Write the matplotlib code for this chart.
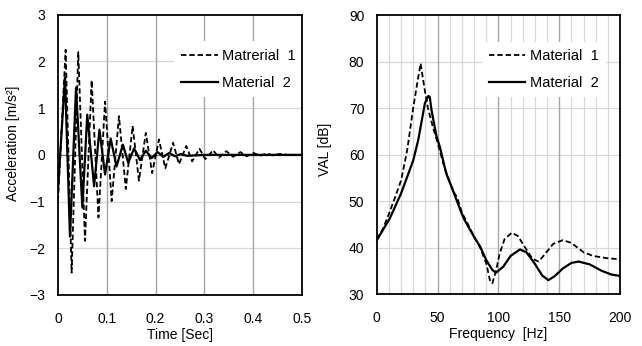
import numpy as np
import matplotlib
matplotlib.use("Agg")
import matplotlib.pyplot as plt

plt.rcParams['font.family'] = ['Liberation Sans', 'DejaVu Sans']
plt.rcParams['font.size'] = 10

# time signal
t_mat1 = [0.0, 0.0157, 0.028, 0.0416, 0.0554, 0.069, 0.083, 0.0965, 0.110, 0.125,
          0.139, 0.153, 0.166, 0.180, 0.193, 0.207, 0.220, 0.236, 0.248, 0.263,
          0.275, 0.290, 0.302, 0.318, 0.330, 0.345, 0.359, 0.374, 0.387, 0.401,
          0.414, 0.428, 0.440, 0.455, 0.470, 0.500]
a_mat1 = [-0.99, 2.25, -2.52, 2.20, -1.84, 1.60, -1.34, 1.14, -0.99, 0.83,
          -0.73, 0.62, -0.55, 0.47, -0.39, 0.33, -0.29, 0.26, -0.20, 0.19,
          -0.14, 0.13, -0.09, 0.10, -0.06, 0.08, -0.04, 0.06, -0.03, 0.04,
          -0.02, 0.03, -0.01, 0.02, 0.0, 0.0]

t_mat2 = [0.0, 0.0144, 0.0246, 0.037, 0.050, 0.060, 0.074, 0.085, 0.0965, 0.108,
          0.120, 0.133, 0.144, 0.156, 0.168, 0.180, 0.192, 0.204, 0.216, 0.228,
          0.240, 0.252, 0.264, 0.300, 0.500]
a_mat2 = [-0.75, 1.66, -1.75, 1.44, -1.13, 0.86, -0.67, 0.54, -0.42, 0.35,
          -0.25, 0.22, -0.17, 0.14, -0.11, 0.09, -0.07, 0.06, -0.04, 0.04,
          -0.03, 0.02, -0.02, 0.0, 0.0]

# spectrum
f_mat1 = [0, 5, 10, 15, 20, 25, 30, 33, 36, 39, 42, 46, 50, 55, 60, 64, 66, 70, 75,
          80, 85, 90, 93, 95, 98, 101, 105, 111, 116, 122, 128, 133, 138, 145, 153,
          160, 170, 178, 190, 200]
v_mat1 = [41.8, 44.0, 47.3, 50.8, 54.5, 61.0, 70.2, 75.0, 79.6, 74.5, 70.0, 66.0,
          62.5, 57.8, 54.0, 51.6, 50.8, 47.5, 45.0, 42.3, 40.0, 36.6, 33.0, 32.3,
          35.0, 38.7, 41.8, 43.2, 42.5, 40.0, 37.6, 37.0, 38.5, 40.8, 41.6, 41.0,
          39.0, 38.2, 37.7, 37.5]

f_mat2 = [0, 5, 10.7, 20, 30, 34, 37, 39.5, 42.3, 43.5, 45, 49, 52, 57, 61.5, 64,
          70, 72, 80, 85, 90, 95, 98, 104, 110, 117.7, 123, 130, 136, 141, 146,
          153, 160, 166, 175, 185, 193, 200]
v_mat2 = [41.6, 43.8, 46.3, 51.7, 58.8, 63.1, 67.4, 71.0, 72.6, 72.4, 69.5, 64.0,
          61.5, 56.0, 53.0, 51.3, 47.2, 46.0, 42.3, 40.2, 37.3, 35.2, 34.6, 35.9,
          38.2, 39.6, 39.0, 36.5, 34.0, 33.0, 33.8, 35.5, 36.7, 37.0, 36.4, 35.0,
          34.2, 33.9]

light = '#d9d9d9'
dark = '#a6a6a6'

fig = plt.figure(figsize=(6.42, 3.46), dpi=100)
ax1 = fig.add_axes([0.0903, 0.1474, 0.380, 0.810])
ax2 = fig.add_axes([0.587, 0.150, 0.3787, 0.8066])

# --- left: time history
ax1.plot(t_mat1, a_mat1, color='black', lw=1.3, ls=(0, (3, 1.6)), label='Matrerial  1', zorder=3)
ax1.plot(t_mat2, a_mat2, color='black', lw=1.6, label='Material  2', zorder=4)
ax1.set_xlim(0, 0.5)
ax1.set_ylim(-3, 3)
ax1.set_xticks(np.arange(0, 0.51, 0.1))
ax1.set_xticklabels(['0', '0.1', '0.2', '0.3', '0.4', '0.5'])
ax1.set_yticks(range(-3, 4))
for y in range(-2, 3):
    if y != 0:
        ax1.axhline(y, color=light, lw=0.9, zorder=1)
ax1.axhline(0, color='#808080', lw=1.0, zorder=2)
for x in [0.1, 0.2, 0.3, 0.4]:
    ax1.axvline(x, color=dark, lw=1.0, zorder=1)
ax1.set_xlabel('Time [Sec]')
ax1.set_ylabel('Acceleration [m/s²]')
ax1.yaxis.set_label_coords(-0.156, 0.54)
ax1.xaxis.set_label_coords(0.5, -0.118)

# --- right: spectrum
ax2.plot(f_mat1, v_mat1, color='black', lw=1.3, ls=(0, (3, 1.6)), label='Material  1', zorder=3)
ax2.plot(f_mat2, v_mat2, color='black', lw=1.6, label='Material  2', zorder=4)
ax2.set_xlim(0, 200)
ax2.set_ylim(30, 90)
ax2.set_xticks([0, 50, 100, 150, 200])
ax2.set_yticks(range(30, 91, 10))
for y in range(40, 90, 10):
    ax2.axhline(y, color=light, lw=0.9, zorder=1)
for x in range(10, 200, 10):
    ax2.axvline(x, color=dark if x % 50 == 0 else light, lw=1.0 if x % 50 == 0 else 0.9, zorder=1)
ax2.set_xlabel('Frequency  [Hz]')
ax2.set_ylabel('VAL [dB]')
ax2.yaxis.set_label_coords(-0.186, 0.52)
ax2.xaxis.set_label_coords(0.5, -0.118)

for ax, anchor in ((ax1, (1.005, 0.905)), (ax2, (0.942, 0.905))):
    ax.tick_params(length=0)
    ax.tick_params(axis='x', pad=12)
    ax.tick_params(axis='y', pad=9)
    for s in ax.spines.values():
        s.set_linewidth(1.3)
        s.set_zorder(5)
    leg = ax.legend(loc='upper right', bbox_to_anchor=anchor, frameon=True, fancybox=False,
                    edgecolor='none', facecolor='white', framealpha=1, fontsize=10.5,
                    handlelength=2.5, handletextpad=0.3, labelspacing=0.9,
                    borderaxespad=0, borderpad=0.5)
    leg.get_frame().set_linewidth(0)
    leg.set_zorder(4.5)

fig.savefig('out.png', dpi=100)
